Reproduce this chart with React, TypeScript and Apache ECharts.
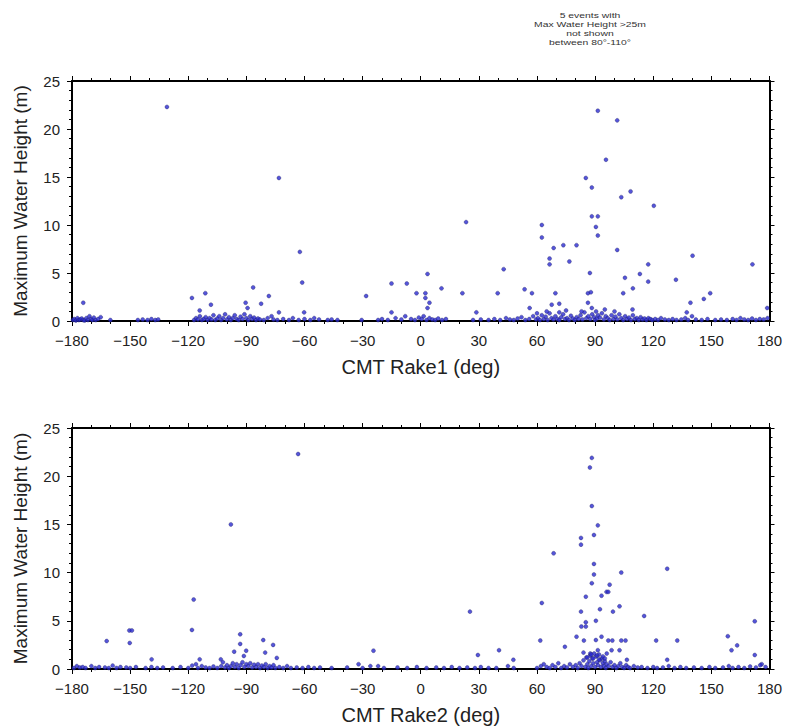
import React, { useEffect, useRef } from "react";
import * as echarts from "echarts";

// Top panel: CMT Rake1 (deg) vs Maximum Water Height (m)
const rake1High: number[][] = [
  [-174.2, 1.9], [-165.2, 0.4], [-131, 22.3], [-118.1, 2.4], [-114.1, 1.1], [-111.2, 2.9],
  [-108.3, 1.7], [-90.4, 1.9], [-89.4, 1.35], [-86.5, 3.5], [-82.4, 1.8], [-78.4, 2.6],
  [-77, 0.5], [-73.2, 14.9], [-73.2, 0.9], [-62.4, 7.2], [-61.2, 4.0], [-60.2, 0.9],
  [-28.2, 2.6], [-15.1, 3.9], [-15.1, 0.9], [-7.2, 3.9], [-2.2, 2.9], [2.4, 2.9], [2.4, 2.4],
  [3.5, 4.9], [3.5, 1.35], [4.5, 1.9], [10.7, 3.4], [21.5, 2.9], [23.4, 10.3], [28.7, 0.9],
  [39.7, 2.9], [42.8, 5.4], [53.6, 3.3], [56.2, 1.35], [57.4, 2.9], [62.5, 10.0], [62.5, 8.7],
  [66.5, 6.5], [66.5, 5.9], [67.6, 1.7], [68.6, 7.6], [69.5, 2.9], [71.5, 1.8], [71.5, 0.9],
  [73.6, 7.9], [76.7, 6.2], [80.4, 7.9], [85.2, 14.9], [86.3, 2.9], [86.3, 1.9], [87.3, 5.0],
  [87.8, 3.0], [88.3, 13.9], [88.3, 10.9], [88.3, 1.35], [90.4, 9.8], [91.4, 21.9], [91.4, 10.9],
  [91.4, 8.9], [95.6, 16.8], [101.4, 20.9], [101.4, 7.4], [103.5, 12.9], [104.5, 2.9],
  [105.4, 4.5], [108.3, 13.5], [109.3, 1.2], [109.5, 3.4], [113.1, 4.9], [117.4, 5.9],
  [117.4, 4.1], [120.3, 12.0], [131.7, 4.3], [137.3, 0.9], [139.2, 1.9], [140.3, 6.8],
  [146.1, 2.3], [149.4, 2.9], [171.2, 5.9], [178.8, 1.35], [65, 1.0], [75, 1.1], [83, 1.0],
  [95, 1.2], [100, 1.0], [60, 0.8],
];

const rake1Low: number[][] = [
  [-179.5, 0.1], [-178.8, 0.2], [-178, 0.05], [-177.2, 0.3], [-176.5, 0.1], [-175.8, 0.15],
  [-175, 0.25], [-174.3, 0.1], [-173.5, 0.05], [-172.6, 0.3], [-171.8, 0.1], [-171, 0.5],
  [-170.2, 0.2], [-169.5, 0.1], [-168.7, 0.35], [-167.8, 0.1], [-166.5, 0.2], [-160.2, 0.1],
  [-146, 0.1], [-143.5, 0.15], [-141, 0.1], [-139, 0.2], [-137, 0.1], [-135.5, 0.15],
  [-117, 0.1], [-116, 0.3], [-115, 0.15], [-114, 0.5], [-113, 0.1], [-112, 0.2], [-111, 0.4],
  [-110, 0.1], [-109, 0.3], [-108, 0.15], [-107, 0.6], [-106, 0.1], [-105, 0.25], [-104, 0.5],
  [-103, 0.1], [-102, 0.3], [-101, 0.7], [-100, 0.15], [-99, 0.4], [-98, 0.1], [-97, 0.3],
  [-96, 0.6], [-95, 0.2], [-94, 0.1], [-93, 0.45], [-92, 0.2], [-91, 0.7], [-90, 0.3],
  [-89, 0.1], [-88, 0.5], [-87, 0.2], [-86, 0.35], [-85, 0.1], [-84, 0.25], [-83, 0.15],
  [-81, 0.1], [-79, 0.3], [-76, 0.15], [-74, 0.1], [-71, 0.2], [-68, 0.1], [-66, 0.3],
  [-63, 0.1], [-60, 0.2], [-57, 0.1], [-55, 0.3], [-52.5, 0.15], [-48, 0.1], [-46, 0.15],
  [-43, 0.1], [-30.5, 0.1], [-22, 0.1], [-20, 0.2], [-17, 0.1], [-13, 0.3], [-10, 0.15],
  [-8, 0.5], [-5, 0.2], [-3, 0.1], [-1, 0.35], [0.5, 0.2], [1.5, 0.5], [3, 0.1], [4.5, 0.3],
  [6, 0.15], [7.5, 0.1], [9, 0.25], [11, 0.1], [13, 0.2], [27, 0.1], [31, 0.15], [35, 0.1],
  [38, 0.2], [41, 0.1], [44, 0.3], [46, 0.15], [48, 0.1], [50, 0.25], [52, 0.4], [54, 0.1],
  [56, 0.2], [58, 0.5], [59.5, 0.15], [60.5, 0.3], [61.5, 0.1], [62.5, 0.6], [63.5, 0.2],
  [64.5, 0.45], [65.5, 0.1], [66.5, 0.8], [67.5, 0.3], [68.5, 0.15], [69.5, 0.5], [70.5, 0.2],
  [71.5, 0.1], [72.5, 0.4], [73.5, 0.7], [74.5, 0.2], [75.5, 0.3], [76.5, 0.1], [77.5, 0.55],
  [78.5, 0.25], [79.5, 0.1], [80.5, 0.4], [81.5, 0.2], [82.5, 0.6], [83.5, 0.15], [84.5, 0.9],
  [85.5, 0.3], [86.5, 0.5], [87.5, 0.2], [88.5, 0.7], [89.5, 0.4], [90, 0.1], [90.5, 1.0],
  [91, 0.25], [91.5, 0.6], [92.5, 0.35], [93.5, 0.8], [94.5, 0.15], [95.5, 0.5], [96.5, 0.3],
  [97.5, 0.1], [98.5, 0.6], [99.5, 0.2], [100.5, 0.45], [101.5, 0.15], [102.5, 0.7],
  [103.5, 0.3], [104.5, 0.1], [105.5, 0.5], [106.5, 0.2], [107.5, 0.35], [108.5, 0.1],
  [109.5, 0.6], [110.5, 0.2], [111.5, 0.3], [112.5, 0.1], [113.5, 0.4], [114.5, 0.15],
  [115.5, 0.25], [116.5, 0.1], [117.5, 0.3], [118.5, 0.2], [119.5, 0.1], [121, 0.2],
  [122.5, 0.1], [124, 0.3], [126, 0.15], [128, 0.1], [130, 0.2], [132, 0.1], [134.5, 0.15],
  [136.5, 0.3], [138, 0.1], [140, 0.5], [142, 0.15], [145, 0.1], [148, 0.2], [152, 0.1],
  [155, 0.15], [158, 0.1], [161, 0.2], [163, 0.1], [165, 0.3], [167, 0.15], [169, 0.1],
  [171, 0.25], [173, 0.1], [175, 0.2], [177, 0.15], [179, 0.3],
];

// Bottom panel: CMT Rake2 (deg) vs Maximum Water Height (m)
const rake2High: number[][] = [
  [-162.1, 2.9], [-150.4, 4.0], [-149.1, 4.0], [-150.2, 2.7], [-138.9, 1.0], [-118.1, 4.05],
  [-117.2, 7.2], [-114.1, 1.0], [-103.2, 1.0], [-102.1, 0.7], [-98, 15.0], [-96.3, 1.8],
  [-93.2, 3.6], [-93.2, 2.6], [-91.3, 1.35], [-90.1, 1.9], [-81.3, 3.0], [-80.3, 1.7],
  [-76.2, 2.5], [-74.3, 1.15], [-63.3, 22.3], [-32.1, 0.5], [-24.4, 1.9], [25.4, 5.95],
  [29.5, 1.45], [40.4, 1.95], [47.8, 0.95], [61.7, 2.95], [62.5, 6.85], [68.6, 12.0],
  [74.4, 2.3], [80.4, 3.35], [82.7, 13.6], [82.7, 12.9], [82.7, 5.95], [82.9, 4.4], [84.2, 2.95],
  [85.2, 7.5], [85.2, 4.85], [85.2, 4.4], [87.3, 20.9], [88.3, 21.9], [88.3, 16.9], [88.3, 8.9],
  [89.4, 13.9], [89.4, 10.9], [89.4, 9.8], [90.4, 5.0], [90.4, 3.0], [91.4, 14.9], [91.4, 1.95],
  [92.5, 6.2], [93.3, 7.6], [93.3, 3.35], [95.9, 8.0], [96.8, 8.0], [96.8, 2.95], [97.5, 8.75],
  [98.5, 1.95], [98.9, 2.95], [99.2, 5.95], [102.6, 6.5], [102.6, 1.95], [103.5, 10.0],
  [103.5, 2.95], [105.7, 2.95], [106.4, 0.95], [115.3, 5.5], [121.5, 2.95], [127.2, 10.4],
  [127.2, 0.95], [132.4, 2.95], [158.5, 3.4], [160.4, 1.95], [163.3, 2.45], [172.4, 4.95],
  [172.4, 1.45], [175.2, 0.4], [86, 1.2], [87.5, 1.6], [89, 1.1], [91, 1.4], [92, 1.0],
  [94, 1.3], [95, 1.1], [88, 1.5], [84, 1.7], [96, 1.6],
];

const rake2Low: number[][] = [
  [-179, 0.1], [-177.5, 0.3], [-176, 0.15], [-174.5, 0.2], [-173, 0.1], [-170, 0.3],
  [-168, 0.1], [-166, 0.2], [-163, 0.15], [-161, 0.1], [-159, 0.35], [-157, 0.1], [-155, 0.2],
  [-152, 0.15], [-150, 0.1], [-147, 0.2], [-142, 0.1], [-139, 0.2], [-136, 0.1], [-133, 0.15],
  [-128, 0.1], [-124, 0.2], [-120, 0.1], [-118, 0.35], [-116, 0.5], [-115, 0.1], [-113, 0.3],
  [-111, 0.15], [-109, 0.1], [-107, 0.25], [-105, 0.1], [-103, 0.3], [-101, 0.15], [-100, 0.4],
  [-99, 0.1], [-98, 0.3], [-97, 0.6], [-96, 0.2], [-95, 0.5], [-94, 0.1], [-93, 0.4],
  [-92, 0.7], [-91, 0.2], [-90, 0.5], [-89, 0.3], [-88, 0.6], [-87, 0.15], [-86, 0.45],
  [-85, 0.2], [-84, 0.5], [-83, 0.1], [-82, 0.35], [-81, 0.2], [-80, 0.5], [-79, 0.1],
  [-78, 0.3], [-77, 0.15], [-76, 0.4], [-75, 0.1], [-73, 0.2], [-71, 0.1], [-69, 0.3],
  [-67, 0.1], [-64, 0.15], [-61, 0.1], [-58, 0.2], [-55, 0.1], [-52, 0.15], [-46, 0.1],
  [-38, 0.15], [-30, 0.1], [-26, 0.3], [-22, 0.3], [-19, 0.1], [-12, 0.15], [-7, 0.1],
  [-2, 0.2], [3, 0.1], [8, 0.15], [12, 0.1], [16, 0.2], [20, 0.1], [24, 0.15], [28, 0.1],
  [31, 0.2], [35, 0.1], [39, 0.1], [45, 0.3], [48, 0.1], [60, 0.1], [62, 0.3], [63.5, 0.5],
  [65, 0.2], [66.5, 0.1], [68, 0.4], [69.5, 0.2], [71, 0.6], [72.5, 0.1], [74, 0.3],
  [75.5, 0.15], [77, 0.5], [78.5, 0.2], [80, 0.4], [81, 0.1], [82, 0.6], [83, 0.3], [84, 0.9],
  [85, 0.2], [85.5, 1.2], [86, 0.5], [86.5, 0.1], [87, 0.8], [87.5, 1.4], [88, 0.3],
  [88.5, 1.1], [89, 0.6], [89.5, 1.6], [90, 0.2], [90.5, 1.3], [91, 0.7], [91.5, 0.4],
  [92, 1.5], [92.5, 0.9], [93, 0.2], [93.5, 1.1], [94, 0.6], [94.5, 0.3], [95, 0.8],
  [95.5, 0.1], [96, 0.5], [97, 0.3], [98, 0.7], [99, 0.2], [100, 0.4], [101, 0.1], [102, 0.3],
  [103, 0.6], [104, 0.2], [105, 0.1], [106, 0.4], [107, 0.2], [108, 0.1], [110, 0.3],
  [112, 0.15], [114, 0.2], [117, 0.1], [120, 0.2], [122, 0.1], [125, 0.15], [128, 0.3],
  [131, 0.1], [134, 0.2], [137, 0.1], [141, 0.15], [145, 0.1], [149, 0.2], [152, 0.1],
  [156, 0.15], [159, 0.3], [161, 0.1], [164, 0.2], [167, 0.1], [170, 0.25], [173, 0.15],
  [176, 0.5], [178, 0.2],
];

const xTickInterval = 30;
const yTickInterval = 5;
const annotationLines = [
  "5 events with",
  "Max Water Height >25m",
  "not shown",
  "between 80°-110°",
];

const FONT = "'Liberation Sans', Arial, Helvetica, sans-serif";

export default function App() {
  const ref = useRef<HTMLDivElement>(null);

  useEffect(() => {
    if (!ref.current) return;
    const chart = echarts.init(ref.current, undefined, { renderer: "svg" });

    const fmt = (v: number) => String(v).replace("-", "\u2212");

    const xAxisBase = (gridIndex: number, position: "top" | "bottom", name: string) => ({
      type: "value" as const,
      gridIndex,
      position,
      min: -180,
      max: 180,
      interval: xTickInterval,
      name: position === "bottom" ? name : "",
      nameLocation: "middle" as const,
      nameGap: 36,
      nameTextStyle: { fontSize: 20, color: "#222", fontFamily: FONT },
      axisLine: { show: true, onZero: false, lineStyle: { color: "#000", width: 2 } },
      axisTick: { show: true, length: 5, lineStyle: { color: "#000", width: 1 } },
      minorTick: { show: true, splitNumber: 3, length: 3, lineStyle: { color: "#000", width: 1 } },
      splitLine: { show: false },
      axisLabel: {
        show: position === "bottom",
        fontSize: 15,
        color: "#222",
        margin: 12,
        fontFamily: FONT,
        formatter: fmt,
      },
    });

    const yAxisBase = (gridIndex: number, position: "left" | "right") => ({
      type: "value" as const,
      gridIndex,
      position,
      min: 0,
      max: 25,
      interval: yTickInterval,
      name: position === "left" ? "Maximum Water Height (m)" : "",
      nameLocation: "middle" as const,
      nameGap: 42,
      nameTextStyle: { fontSize: 19, color: "#222", fontFamily: FONT },
      axisLine: { show: true, onZero: false, lineStyle: { color: "#000", width: 2 } },
      axisTick: { show: true, length: 5, lineStyle: { color: "#000", width: 1 } },
      minorTick: { show: true, splitNumber: 5, length: 3, lineStyle: { color: "#000", width: 1 } },
      splitLine: { show: false },
      axisLabel: {
        show: position === "left",
        fontSize: 15,
        color: "#222",
        margin: 12,
        fontFamily: FONT,
      },
    });

    const pointStyle = {
      color: "#2a2ad0",
      borderColor: "#1c1c50",
      borderWidth: 0.4,
    };

    chart.setOption({
      animation: false,
      backgroundColor: "#fff",
      textStyle: { fontFamily: FONT },
      grid: [
        { left: 72, top: 81, width: 698, height: 240 },
        { left: 72, top: 428, width: 698, height: 241 },
      ],
      xAxis: [
        xAxisBase(0, "bottom", "CMT Rake1 (deg)"),
        xAxisBase(0, "top", ""),
        xAxisBase(1, "bottom", "CMT Rake2 (deg)"),
        xAxisBase(1, "top", ""),
      ],
      yAxis: [
        yAxisBase(0, "left"),
        yAxisBase(0, "right"),
        yAxisBase(1, "left"),
        yAxisBase(1, "right"),
      ],
      series: [
        {
          type: "scatter",
          xAxisIndex: 0,
          yAxisIndex: 0,
          symbol: "circle",
          symbolSize: 4,
          itemStyle: pointStyle,
          data: [...rake1Low, ...rake1High],
        },
        {
          type: "scatter",
          xAxisIndex: 2,
          yAxisIndex: 2,
          symbol: "circle",
          symbolSize: 4,
          itemStyle: pointStyle,
          data: [...rake2Low, ...rake2High],
        },
      ],
      graphic: [
        {
          type: "text",
          x: 590,
          y: 10.5,
          scaleX: 1.3,
          style: {
            text: annotationLines.join("\n"),
            fontSize: 8,
            lineHeight: 9.2,
            fill: "#333",
            align: "center",
            verticalAlign: "top",
            fontFamily: FONT,
          },
        },
      ],
    });

    return () => chart.dispose();
  }, []);

  return (
    <div
      ref={ref}
      style={{ position: "fixed", left: 0, top: 0, width: 785, height: 728, background: "#fff" }}
    />
  );
}
